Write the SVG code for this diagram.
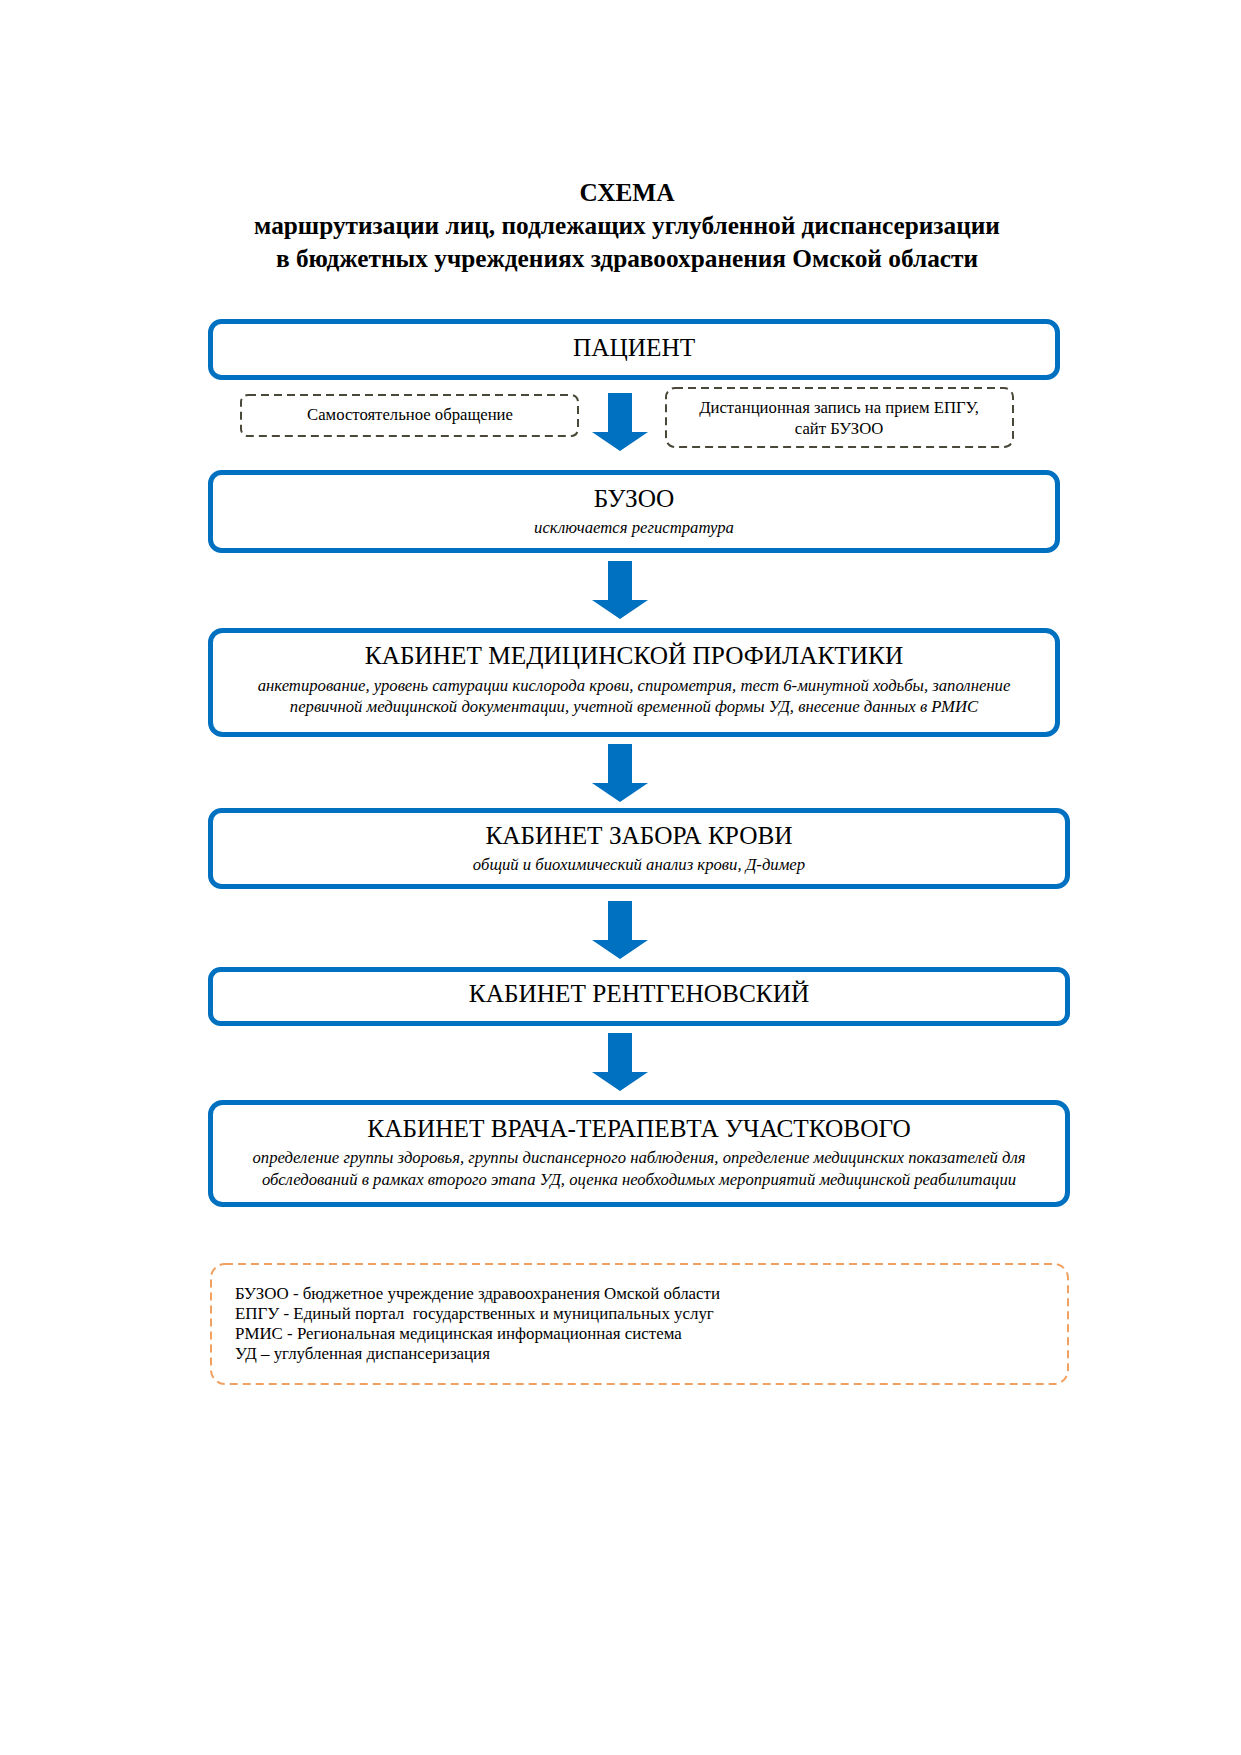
<svg xmlns="http://www.w3.org/2000/svg" width="1241" height="1755" viewBox="0 0 1241 1755">
<style>
  text { font-family: "Liberation Serif", "Times New Roman", serif; fill: #000; }
  .title { font-size: 25.3px; font-weight: bold; text-anchor: middle; }
  .box { fill: #fff; stroke: #0070C0; stroke-width: 5; }
  .head { font-size: 25.3px; text-anchor: middle; }
  .sub { font-size: 16.7px; font-style: italic; text-anchor: middle; }
  .dash { fill: #fff; stroke: #4a4838; stroke-width: 2; stroke-dasharray: 8 5; }
  .small { font-size: 16.7px; text-anchor: middle; }
  .legend { fill: none; stroke: #F0A060; stroke-width: 2; stroke-dasharray: 8 5; }
  .leg { font-size: 16.9px; }
  .arrow { fill: #0070C0; }
</style>
<defs>
  <path id="arr" d="M -12 0 L 12 0 L 12 39 L 28 39 L 0 58 L -28 39 L -12 39 Z"/>
</defs>
<rect width="1241" height="1755" fill="#fff"/>

<g id="title">
  <text class="title" x="627" y="201">СХЕМА</text>
  <text class="title" x="627" y="234">маршрутизации лиц, подлежащих углубленной диспансеризации</text>
  <text class="title" x="627" y="267">в бюджетных учреждениях здравоохранения Омской области</text>
</g>

<g id="connectors">
  <use href="#arr" class="arrow" x="620" y="393"/>
  <use href="#arr" class="arrow" x="620" y="561"/>
  <use href="#arr" class="arrow" x="620" y="744"/>
  <use href="#arr" class="arrow" x="620" y="901"/>
  <use href="#arr" class="arrow" x="620" y="1033"/>
</g>

<g id="patient">
  <rect class="box" x="210.5" y="321.5" width="847" height="56" rx="11"/>
  <text class="head" x="634" y="356">ПАЦИЕНТ</text>
</g>

<g id="self">
  <rect class="dash" x="241" y="395" width="337" height="41" rx="7"/>
  <text class="small" x="410" y="420">Самостоятельное обращение</text>
</g>

<g id="remote">
  <rect class="dash" x="666" y="388" width="347" height="59" rx="9"/>
  <text class="small" x="839" y="413">Дистанционная запись на прием ЕПГУ,</text>
  <text class="small" x="839" y="434">сайт БУЗОО</text>
</g>

<g id="buzoo">
  <rect class="box" x="210.5" y="472.5" width="847" height="78" rx="11"/>
  <text class="head" x="634" y="507">БУЗОО</text>
  <text class="sub" x="634" y="533">исключается регистратура</text>
</g>

<g id="prof">
  <rect class="box" x="210.5" y="630.5" width="847" height="104" rx="12"/>
  <text class="head" x="634" y="664">КАБИНЕТ МЕДИЦИНСКОЙ ПРОФИЛАКТИКИ</text>
  <text class="sub" x="634" y="691">анкетирование, уровень сатурации кислорода крови, спирометрия, тест 6-минутной ходьбы, заполнение</text>
  <text class="sub" x="634" y="712">первичной медицинской документации, учетной временной формы УД, внесение данных в РМИС</text>
</g>

<g id="blood">
  <rect class="box" x="210.5" y="810.5" width="857" height="76" rx="11"/>
  <text class="head" x="639" y="844">КАБИНЕТ ЗАБОРА КРОВИ</text>
  <text class="sub" x="639" y="870">общий и биохимический анализ крови, Д-димер</text>
</g>

<g id="xray">
  <rect class="box" x="210.5" y="969.5" width="857" height="54" rx="10"/>
  <text class="head" x="639" y="1002">КАБИНЕТ РЕНТГЕНОВСКИЙ</text>
</g>

<g id="therapist">
  <rect class="box" x="210.5" y="1102.5" width="857" height="102" rx="12"/>
  <text class="head" x="639" y="1137">КАБИНЕТ ВРАЧА-ТЕРАПЕВТА УЧАСТКОВОГО</text>
  <text class="sub" x="639" y="1163">определение группы здоровья, группы диспансерного наблюдения, определение медицинских показателей для</text>
  <text class="sub" x="639" y="1185">обследований в рамках второго этапа УД, оценка необходимых мероприятий медицинской реабилитации</text>
</g>

<g id="legend">
  <rect class="legend" x="211" y="1264" width="857" height="120" rx="14"/>
  <text class="leg" x="235" y="1299">БУЗОО - бюджетное учреждение здравоохранения Омской области</text>
  <text class="leg" x="235" y="1319" xml:space="preserve">ЕПГУ - Единый портал  государственных и муниципальных услуг</text>
  <text class="leg" x="235" y="1339">РМИС - Региональная медицинская информационная система</text>
  <text class="leg" x="235" y="1359">УД – углубленная диспансеризация</text>
</g>
</svg>
